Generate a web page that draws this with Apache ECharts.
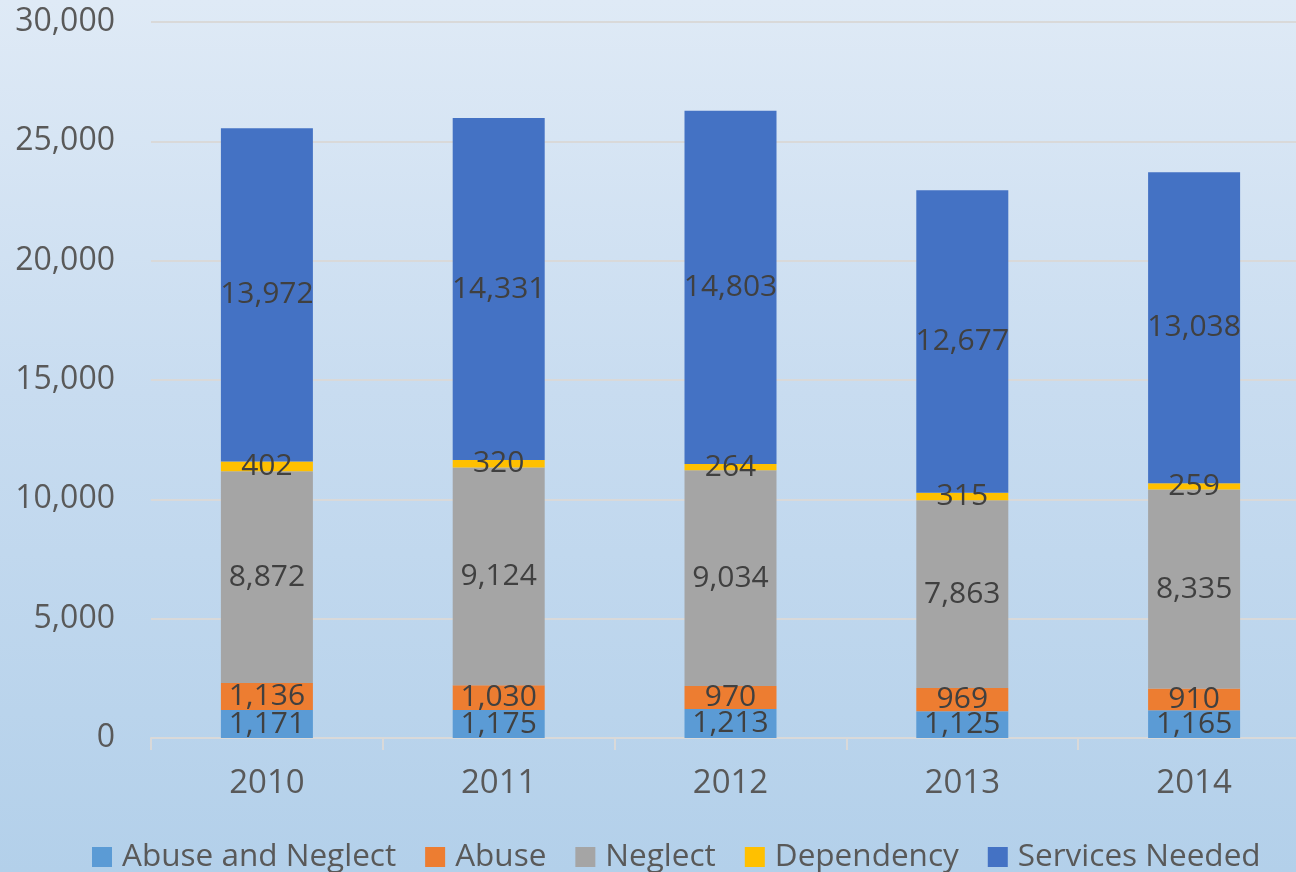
<!DOCTYPE html>
<html>
<head>
<meta charset="utf-8">
<script src="https://cdn.jsdelivr.net/npm/echarts@6/dist/echarts.min.js"></script>
<style>
	html,body{margin:0;padding:0;}
	#mainChart{width:1296px;height:872px;background:linear-gradient(to bottom,#dfeaf6 0%,#c8dcf0 45%,#b3d0ea 100%);}
</style>
</head>
<body>
<div id="mainChart"></div>
<script>
	var years = ['2010', '2011', '2012', '2013', '2014'];
	var abuseAndNeglect = [1171, 1175, 1213, 1125, 1165];
	var abuse = [1136, 1030, 970, 969, 910];
	var neglect = [8872, 9124, 9034, 7863, 8335];
	var dependency = [402, 320, 264, 315, 259];
	var servicesNeeded = [13972, 14331, 14803, 12677, 13038];
	var yTicks = [0, 5000, 10000, 15000, 20000, 25000, 30000];

	var font = '"Open Sans", "Noto Sans", sans-serif';

	function fmt(v){
		return String(v).replace(/\B(?=(\d{3})+(?!\d))/g, ',');
	}

	function makeSeries(name, data, color){
		return {
			name: name,
			type: 'bar',
			stack: 'total',
			barWidth: 92,
			data: data,
			itemStyle: {color: color},
			label: {
				show: true,
				position: 'inside',
				color: '#404040',
				fontFamily: font,
				fontSize: 30,
				formatter: function(p){ return fmt(p.value); }
			}
		};
	}

	var mainChart = echarts.init(document.getElementById('mainChart'));
	var options = {
		backgroundColor: 'transparent',
		animation: false,
		grid: {
			left: 151,
			top: 22,
			width: 1159,
			height: 716,
			outerBoundsMode: 'none',
			containLabel: false
		},
		legend: {
			left: 87,
			top: 836,
			icon: 'rect',
			itemWidth: 20,
			itemHeight: 20,
			itemGap: 29,
			textStyle: {
				color: '#595959',
				fontFamily: font,
				fontSize: 31.5,
				padding: [0, 0, 0, 5]
			},
			data: ['Abuse and Neglect', 'Abuse', 'Neglect', 'Dependency', 'Services Needed']
		},
		xAxis: {
			type: 'category',
			data: years,
			axisLine: {lineStyle: {color: '#d9d9d9', width: 2}},
			axisTick: {show: true, length: 12, lineStyle: {color: '#d9d9d9', width: 2}},
			axisLabel: {
				color: '#595959',
				fontFamily: font,
				fontSize: 33,
				margin: 29
			}
		},
		yAxis: {
			type: 'value',
			min: yTicks[0],
			max: yTicks[yTicks.length - 1],
			interval: 5000,
			axisLine: {show: false},
			axisTick: {show: false},
			splitLine: {lineStyle: {color: '#d9d9d9', width: 2}},
			axisLabel: {
				color: '#595959',
				fontFamily: font,
				fontSize: 32,
				margin: 36,
				formatter: function(v){ return fmt(v); }
			}
		},
		series: [
			makeSeries('Abuse and Neglect', abuseAndNeglect, '#5b9bd5'),
			makeSeries('Abuse', abuse, '#ed7d31'),
			makeSeries('Neglect', neglect, '#a5a5a5'),
			makeSeries('Dependency', dependency, '#ffc000'),
			makeSeries('Services Needed', servicesNeeded, '#4472c4')
		]
	};
	mainChart.setOption(options);
</script>
</body>
</html>
